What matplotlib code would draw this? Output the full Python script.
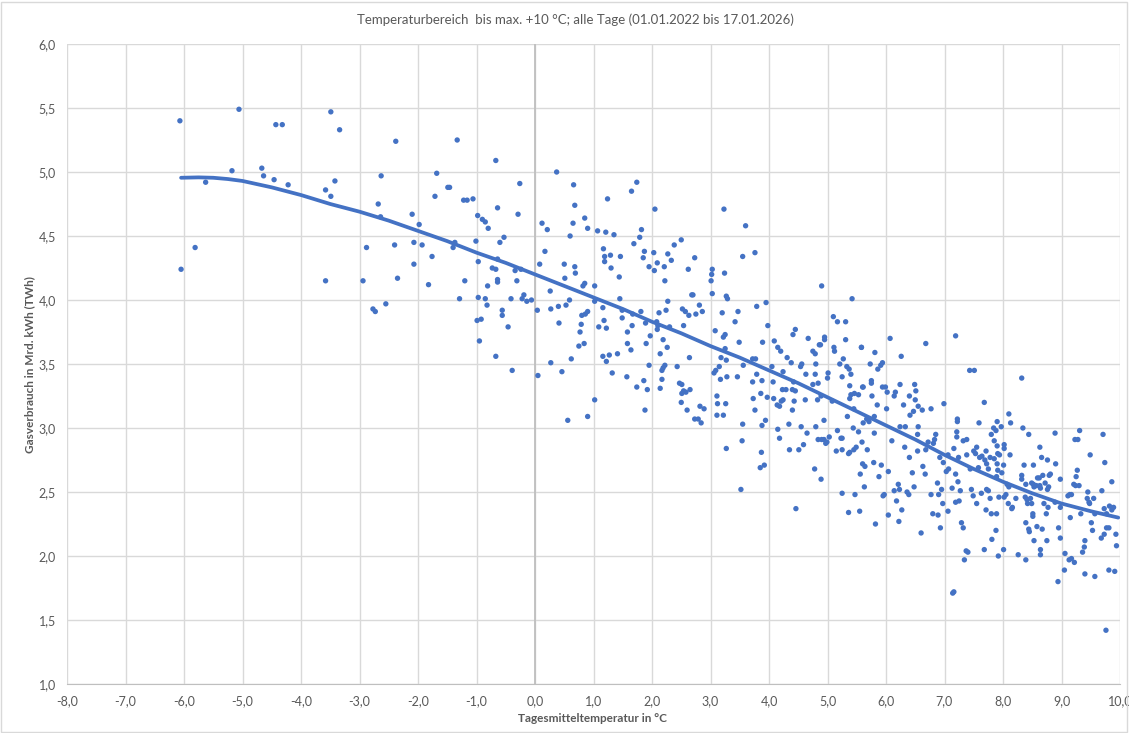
import numpy as np
import matplotlib.pyplot as plt
from matplotlib.ticker import FuncFormatter, MultipleLocator
from matplotlib.patches import Rectangle

plt.rcParams['font.family'] = ['Lato', 'DejaVu Sans']

# (Tagesmitteltemperatur °C, Gasverbrauch TWh)
pts_very_cold = [(-6.07, 5.40), (-5.06, 5.49), (-4.43, 5.37), (-4.32, 5.37), (-5.18, 5.01), (-4.67, 5.03),
                 (-4.64, 4.97), (-5.63, 4.92), (-4.46, 4.94), (-4.22, 4.90), (-5.81, 4.41), (-6.05, 4.24),
                 (-3.49, 5.47), (-3.34, 5.33), (-2.38, 5.24), (-3.42, 4.93), (-3.58, 4.86), (-3.49, 4.81),
                 (-2.63, 4.97), (-2.68, 4.75), (-2.64, 4.65), (-1.68, 4.99), (-1.71, 4.81), (-1.49, 4.88),
                 (-1.46, 4.88), (-2.10, 4.67), (-1.98, 4.59), (-2.88, 4.41), (-2.40, 4.43), (-2.07, 4.45),
                 (-1.93, 4.43), (-1.76, 4.34), (-2.07, 4.28), (-2.35, 4.17), (-1.82, 4.12), (-3.58, 4.15),
                 (-2.94, 4.15), (-2.55, 3.97), (-2.77, 3.93), (-2.73, 3.91)]

pts_around_zero = [(-1.33, 5.25), (-0.67, 5.09), (0.37, 5.00), (0.66, 4.90), (-0.26, 4.91), (-1.22, 4.78),
                   (-1.16, 4.78), (-1.06, 4.79), (0.68, 4.74), (-0.64, 4.72), (-0.29, 4.67), (-0.98, 4.66),
                   (-0.90, 4.63), (-0.85, 4.61), (-0.80, 4.56), (0.12, 4.60), (0.21, 4.55), (0.65, 4.60),
                   (0.85, 4.64), (0.90, 4.56), (0.60, 4.50), (-0.53, 4.49), (-0.60, 4.45), (-1.01, 4.46),
                   (-1.37, 4.45), (-1.40, 4.41), (0.17, 4.38), (-0.97, 4.30), (-0.64, 4.32), (-0.73, 4.25),
                   (-0.67, 4.24), (-0.34, 4.23), (-0.24, 4.24), (0.08, 4.28), (0.50, 4.28), (0.68, 4.26),
                   (0.69, 4.21), (0.51, 4.17), (-1.20, 4.15), (-0.64, 4.16), (-0.64, 4.14), (-0.31, 4.15),
                   (-0.81, 4.11), (0.85, 4.13), (0.82, 4.11), (0.26, 4.07), (-0.19, 4.04), (-0.41, 4.01),
                   (-0.22, 4.01), (-0.14, 3.99), (-0.06, 4.00), (-1.29, 4.01), (-0.97, 4.02), (-0.85, 4.01),
                   (-0.82, 3.96), (0.04, 3.92), (0.27, 3.93), (0.40, 3.95), (0.53, 3.96), (0.59, 4.00),
                   (-0.56, 3.92), (-0.56, 3.88), (-0.99, 3.84), (-0.92, 3.85), (-0.46, 3.79), (0.41, 3.82),
                   (0.80, 3.88), (0.86, 3.89), (0.90, 3.91), (0.79, 3.81), (0.77, 3.75), (0.75, 3.64),
                   (0.84, 3.66), (-0.95, 3.68), (-0.67, 3.56), (0.27, 3.51), (0.62, 3.54), (-0.39, 3.45),
                   (0.05, 3.41), (0.46, 3.44), (0.56, 3.06), (0.90, 3.09)]

pts_mild = [(1.74, 4.92), (1.65, 4.85), (1.24, 4.79), (2.05, 4.71), (3.23, 4.71), (1.07, 4.54), (1.21, 4.53),
            (1.35, 4.51), (1.82, 4.55), (1.79, 4.49), (2.50, 4.47), (1.69, 4.44), (1.17, 4.40), (1.19, 4.34),
            (1.19, 4.30), (1.29, 4.35), (1.46, 4.34), (1.87, 4.38), (1.85, 4.33), (2.03, 4.37), (2.27, 4.36),
            (2.38, 4.43), (2.09, 4.29), (1.95, 4.26), (2.04, 4.23), (2.33, 4.31), (2.21, 4.26), (2.73, 4.33),
            (2.62, 4.24), (1.30, 4.25), (1.44, 4.18), (2.22, 4.15), (3.03, 4.24), (3.02, 4.20), (3.01, 4.15),
            (3.24, 4.21), (1.02, 4.11), (1.45, 4.01), (2.68, 4.04), (2.70, 4.04), (3.03, 4.05), (3.27, 4.03),
            (3.29, 4.01), (2.27, 3.99), (1.02, 3.99), (1.16, 3.94), (1.49, 3.92), (1.67, 3.89), (1.81, 3.91),
            (2.24, 3.92), (2.12, 3.90), (2.52, 3.93), (2.57, 3.91), (2.63, 3.88), (2.81, 3.96), (2.75, 3.89),
            (2.86, 3.91), (3.20, 3.90), (1.49, 3.86), (1.18, 3.84), (1.09, 3.79), (1.22, 3.78), (1.89, 3.82),
            (2.08, 3.83), (2.10, 3.80), (2.09, 3.77), (2.30, 3.79), (1.66, 3.80), (2.54, 3.80), (1.58, 3.75),
            (1.97, 3.72), (3.08, 3.76), (3.25, 3.73), (3.22, 3.71), (2.19, 3.69), (1.58, 3.66), (1.90, 3.66),
            (1.64, 3.61), (2.26, 3.63), (3.25, 3.62), (2.14, 3.58), (1.41, 3.58), (1.27, 3.57), (1.16, 3.56),
            (1.22, 3.52), (2.64, 3.55), (3.18, 3.55), (3.27, 3.53), (1.95, 3.49), (2.43, 3.48), (2.22, 3.49),
            (2.17, 3.45), (2.19, 3.47), (3.15, 3.48), (3.09, 3.45), (3.06, 3.43), (3.28, 3.40), (3.17, 3.38),
            (1.32, 3.43), (1.57, 3.40), (1.86, 3.37), (2.17, 3.38), (1.74, 3.32), (1.92, 3.30), (2.14, 3.31),
            (2.47, 3.35), (2.51, 3.34), (2.54, 3.29), (2.58, 3.28), (2.51, 3.27), (2.65, 3.30), (1.02, 3.22),
            (2.50, 3.20), (1.88, 3.14), (2.60, 3.14), (2.82, 3.17), (2.89, 3.15), (3.11, 3.25), (3.12, 3.19),
            (3.26, 3.19), (2.73, 3.07), (2.79, 3.07), (2.84, 3.04), (3.11, 3.10), (3.22, 3.10), (3.27, 2.84)]

pts_warm = [(3.60, 4.58), (3.55, 4.34), (3.76, 4.37), (3.47, 3.91), (3.42, 3.83), (3.79, 3.95), (3.95, 3.98),
            (3.98, 3.80), (3.49, 3.67), (3.89, 3.67), (4.09, 3.68), (4.15, 3.63), (4.20, 3.60), (4.41, 3.73),
            (4.45, 3.77), (4.67, 3.70), (4.31, 3.55), (4.38, 3.51), (4.54, 3.48), (4.56, 3.50), (4.24, 3.44),
            (3.72, 3.54), (3.77, 3.54), (3.56, 3.49), (4.05, 3.48), (3.79, 3.42), (3.46, 3.40), (3.72, 3.36),
            (3.88, 3.37), (4.07, 3.36), (4.23, 3.30), (4.29, 3.30), (4.40, 3.30), (4.42, 3.36), (4.63, 3.42),
            (4.79, 3.42), (4.84, 3.35), (4.75, 3.34), (4.86, 3.65), (4.88, 3.65), (4.95, 3.71), (4.95, 3.69),
            (4.90, 4.11), (4.75, 3.60), (4.79, 3.58), (4.80, 3.50), (5.00, 3.39), (5.01, 3.43), (5.10, 3.87),
            (5.17, 3.83), (5.31, 3.83), (5.31, 3.69), (5.11, 3.63), (5.12, 3.60), (5.27, 3.54), (5.21, 3.50),
            (5.33, 3.48), (5.37, 3.46), (5.40, 3.42), (5.25, 3.40), (5.58, 3.63), (5.42, 4.01), (5.60, 3.32),
            (5.38, 3.33), (5.46, 3.27), (5.53, 3.26), (5.40, 3.26), (5.38, 3.23), (5.08, 3.21), (4.89, 3.25),
            (4.83, 3.22), (4.94, 3.06), (5.45, 3.15), (5.34, 3.09), (4.45, 3.29), (4.43, 3.21), (4.62, 3.22),
            (4.40, 3.14), (4.08, 3.23), (4.14, 3.18), (4.18, 3.17), (4.21, 3.21), (4.24, 3.22), (3.73, 3.23),
            (3.97, 3.24), (3.86, 3.27), (3.76, 3.14), (3.94, 3.06), (3.88, 3.02), (3.55, 3.03), (4.15, 2.99),
            (4.34, 3.03), (4.55, 3.01), (4.80, 3.01), (4.18, 2.92), (4.65, 2.96), (4.84, 2.91), (4.90, 2.91),
            (4.94, 2.91), (4.97, 2.88), (5.03, 2.93), (5.17, 2.98), (5.25, 2.92), (5.23, 2.92), (5.44, 3.00),
            (5.53, 2.97), (3.54, 2.90), (3.87, 2.81), (3.85, 2.69), (3.92, 2.71), (3.52, 2.52), (4.35, 2.83),
            (4.51, 2.83), (4.59, 2.87), (4.78, 2.68), (4.89, 2.60), (4.46, 2.37), (4.99, 2.89), (5.15, 2.82),
            (5.25, 2.83), (5.36, 2.80), (5.38, 2.81), (5.45, 2.83), (5.49, 2.85), (5.25, 2.49), (5.47, 2.48),
            (5.36, 2.34)]

pts_very_warm = [(5.58, 3.63), (5.81, 3.59), (6.07, 3.70), (6.68, 3.66), (7.19, 3.72), (6.26, 3.56), (5.73, 3.50),
                 (5.86, 3.46), (5.91, 3.49), (5.94, 3.51), (7.43, 3.45), (7.51, 3.45), (5.61, 3.32), (5.75, 3.37),
                 (5.75, 3.35), (5.94, 3.32), (5.99, 3.32), (6.02, 3.28), (6.16, 3.28), (6.14, 3.25), (6.24, 3.34),
                 (6.49, 3.34), (6.51, 3.29), (5.76, 3.25), (6.40, 3.25), (6.50, 3.22), (5.85, 3.18), (6.01, 3.15),
                 (6.30, 3.18), (6.55, 3.17), (6.62, 3.14), (6.47, 3.13), (6.41, 3.10), (6.77, 3.15), (6.99, 3.19),
                 (7.68, 3.20), (5.80, 3.09), (5.67, 3.07), (5.71, 3.05), (5.61, 3.04), (5.80, 2.96), (6.24, 3.01),
                 (6.33, 3.01), (6.55, 3.01), (6.54, 2.95), (7.22, 3.07), (7.22, 3.05), (7.21, 2.97), (7.21, 2.93),
                 (7.59, 3.04), (6.85, 2.95), (6.83, 2.91), (6.81, 2.88), (6.72, 2.89), (5.59, 2.89), (6.10, 2.90),
                 (6.32, 2.85), (6.54, 2.82), (6.68, 2.83), (6.92, 2.77), (6.98, 2.73), (7.06, 2.79), (7.16, 2.84),
                 (7.24, 2.77), (7.32, 2.90), (7.38, 2.91), (7.38, 2.79), (7.50, 2.82), (7.53, 2.80), (7.55, 2.85),
                 (7.60, 2.77), (7.64, 2.78), (7.69, 2.75), (7.71, 2.82), (7.72, 2.72), (5.64, 2.70), (5.60, 2.72),
                 (5.79, 2.73), (5.92, 2.71), (5.88, 2.62), (6.04, 2.66), (6.40, 2.77), (6.45, 2.65), (6.63, 2.70),
                 (6.67, 2.64), (7.03, 2.66), (7.07, 2.68), (7.19, 2.64), (7.44, 2.68), (7.58, 2.69), (5.63, 2.54),
                 (5.95, 2.47), (5.97, 2.48), (6.14, 2.51), (6.23, 2.52), (6.21, 2.56), (6.48, 2.54), (6.36, 2.50),
                 (6.39, 2.48), (6.88, 2.57), (6.77, 2.48), (6.90, 2.48), (6.95, 2.52), (7.13, 2.53), (7.23, 2.58),
                 (7.27, 2.51), (7.46, 2.52), (7.49, 2.47), (7.63, 2.49), (7.72, 2.52), (6.97, 2.41), (7.19, 2.42),
                 (7.25, 2.43), (7.55, 2.41), (6.18, 2.43), (6.27, 2.36), (7.06, 2.35), (7.71, 2.36), (5.55, 2.35),
                 (5.68, 2.83), (5.56, 2.64), (6.04, 2.32), (6.22, 2.27), (5.82, 2.25), (6.60, 2.18), (6.80, 2.33),
                 (6.89, 2.32), (6.93, 2.22), (7.29, 2.26), (7.32, 2.22), (7.40, 2.03), (7.37, 2.04), (7.34, 1.97),
                 (7.68, 2.05), (7.14, 1.71), (7.16, 1.72)]

pts_hot = [(8.32, 3.39), (8.10, 3.11), (8.13, 3.04), (7.90, 3.05), (7.84, 3.00), (7.88, 2.98), (7.80, 2.95),
           (7.97, 3.01), (8.34, 3.00), (8.44, 2.95), (8.89, 2.96), (9.31, 2.98), (9.23, 2.91), (9.28, 2.91),
           (9.71, 2.95), (7.85, 2.90), (7.90, 2.86), (8.02, 2.87), (8.02, 2.84), (8.63, 2.85), (8.12, 2.79),
           (7.91, 2.80), (7.94, 2.79), (7.78, 2.77), (7.85, 2.76), (7.90, 2.72), (8.66, 2.77), (8.76, 2.75),
           (9.49, 2.79), (9.74, 2.73), (8.36, 2.71), (8.52, 2.71), (8.90, 2.72), (8.01, 2.71), (7.98, 2.65),
           (7.91, 2.67), (7.89, 2.62), (7.75, 2.68), (9.27, 2.67), (8.32, 2.63), (8.32, 2.60), (8.62, 2.61),
           (8.59, 2.61), (8.68, 2.63), (8.79, 2.63), (8.81, 2.64), (8.98, 2.60), (9.25, 2.62), (8.39, 2.56),
           (8.49, 2.57), (8.52, 2.56), (8.53, 2.54), (8.57, 2.55), (8.63, 2.55), (8.64, 2.53), (8.72, 2.57),
           (8.78, 2.54), (8.76, 2.52), (9.21, 2.56), (9.24, 2.55), (9.30, 2.55), (9.86, 2.58), (8.07, 2.56),
           (8.10, 2.54), (7.75, 2.51), (7.78, 2.45), (7.93, 2.46), (8.02, 2.46), (8.05, 2.48), (8.22, 2.45),
           (8.38, 2.46), (8.41, 2.44), (8.47, 2.45), (8.42, 2.41), (8.49, 2.41), (8.09, 2.41), (8.16, 2.38),
           (8.15, 2.37), (8.70, 2.41), (8.77, 2.38), (8.89, 2.42), (8.98, 2.38), (9.11, 2.47), (9.14, 2.48),
           (9.17, 2.48), (9.45, 2.50), (9.44, 2.45), (9.47, 2.42), (9.48, 2.41), (9.69, 2.51), (9.55, 2.45),
           (9.73, 2.37), (9.82, 2.39), (9.89, 2.38), (9.86, 2.36), (9.77, 2.33), (9.57, 2.33), (9.33, 2.33),
           (9.15, 2.30), (7.80, 2.33), (7.89, 2.33), (8.51, 2.33), (8.51, 2.31), (8.74, 2.33), (8.39, 2.26),
           (8.44, 2.21), (8.45, 2.19), (8.58, 2.23), (8.67, 2.21), (8.95, 2.22), (8.98, 2.14), (8.53, 2.12),
           (8.75, 2.12), (9.51, 2.26), (9.53, 2.20), (9.77, 2.22), (9.81, 2.22), (9.73, 2.17), (9.68, 2.14),
           (9.93, 2.17), (9.94, 2.08), (9.40, 2.12), (9.39, 2.07), (9.36, 2.03), (7.88, 2.20), (7.81, 2.13),
           (8.64, 2.05), (8.64, 2.01), (8.01, 2.05), (7.92, 2.00), (8.26, 2.01), (8.39, 1.97), (9.06, 2.02),
           (9.13, 1.97), (9.17, 1.98), (9.22, 1.95), (9.05, 1.89), (8.94, 1.80), (9.40, 1.86), (9.57, 1.84),
           (9.81, 1.89), (9.91, 1.88), (9.76, 1.42)]

# polynomial trend line as drawn in the chart
trend_temp = [-6.05, -5.75, -5.5, -5.25, -5.0, -4.5, -4.0, -3.5, -3.0, -2.5, -2.0, -1.5, -1.0, -0.5, 0.0, 0.5,
              1.0, 1.5, 2.0, 2.5, 3.0, 3.5, 4.0, 4.5, 5.0, 5.5, 6.0, 6.5, 7.0, 7.5, 8.0, 8.5, 9.0, 9.5, 9.97]
trend_gas = [4.955, 4.958, 4.955, 4.945, 4.93, 4.88, 4.82, 4.75, 4.69, 4.62, 4.54, 4.46, 4.37, 4.29, 4.20, 4.11,
             4.02, 3.93, 3.83, 3.74, 3.64, 3.55, 3.45, 3.35, 3.24, 3.13, 3.02, 2.91, 2.79, 2.68, 2.58, 2.49,
             2.41, 2.35, 2.30]

all_pts = pts_very_cold + pts_around_zero + pts_mild + pts_warm + pts_very_warm + pts_hot
temp = np.array([p[0] for p in all_pts])
gas = np.array([p[1] for p in all_pts])

blue = '#4472C4'
grid_c = '#D9D9D9'
txt_c = '#595959'

W, H = 1129, 733
fig = plt.figure(figsize=(W / 100, H / 100), dpi=100)
ax = fig.add_axes([67 / W, 1 - 684 / H, (1120 - 67) / W, 640 / H])

ax.scatter(temp, gas, s=15, color=blue, edgecolors='none', zorder=3)
ax.plot(trend_temp, trend_gas, color=blue, lw=2.7, zorder=4, solid_capstyle='round', solid_joinstyle='round')

ax.set_xlim(-8, 10)
ax.set_ylim(1, 6)
ax.xaxis.set_major_locator(MultipleLocator(1))
ax.yaxis.set_major_locator(MultipleLocator(0.5))
fmt = FuncFormatter(lambda v, p: f"{v:.1f}".replace('.', ','))
ax.xaxis.set_major_formatter(fmt)
ax.yaxis.set_major_formatter(fmt)
ax.grid(True, color=grid_c, lw=1)
ax.set_axisbelow(True)
ax.axvline(0, color='#BFBFBF', lw=1.3, zorder=1)
for s in ['top', 'right', 'left']:
    ax.spines[s].set_visible(False)
ax.spines['bottom'].set_color('#BFBFBF')
ax.tick_params(length=0, labelsize=9, colors=txt_c, pad=8)

fig.text(575 / W, 1 - 20 / H, "Temperaturbereich  bis max. +10 °C; alle Tage (01.01.2022 bis 17.01.2026)",
         ha='center', va='center', fontsize=9.5, color=txt_c)
fig.text(30 / W, 1 - 365 / H, "Gasverbrauch in Mrd. kWh (TWh)", rotation=90,
         ha='center', va='center', fontsize=8.5, color=txt_c, fontweight='bold')
fig.text(592 / W, 1 - 718 / H, "Tagesmitteltemperatur in °C",
         ha='center', va='center', fontsize=8.5, color=txt_c, fontweight='bold')

fig.patches.append(Rectangle((1 / W, 1 / H), (W - 3) / W, (H - 3) / H, transform=fig.transFigure,
                             fill=False, edgecolor=grid_c, lw=1))

fig.savefig("out.png", dpi=100)
